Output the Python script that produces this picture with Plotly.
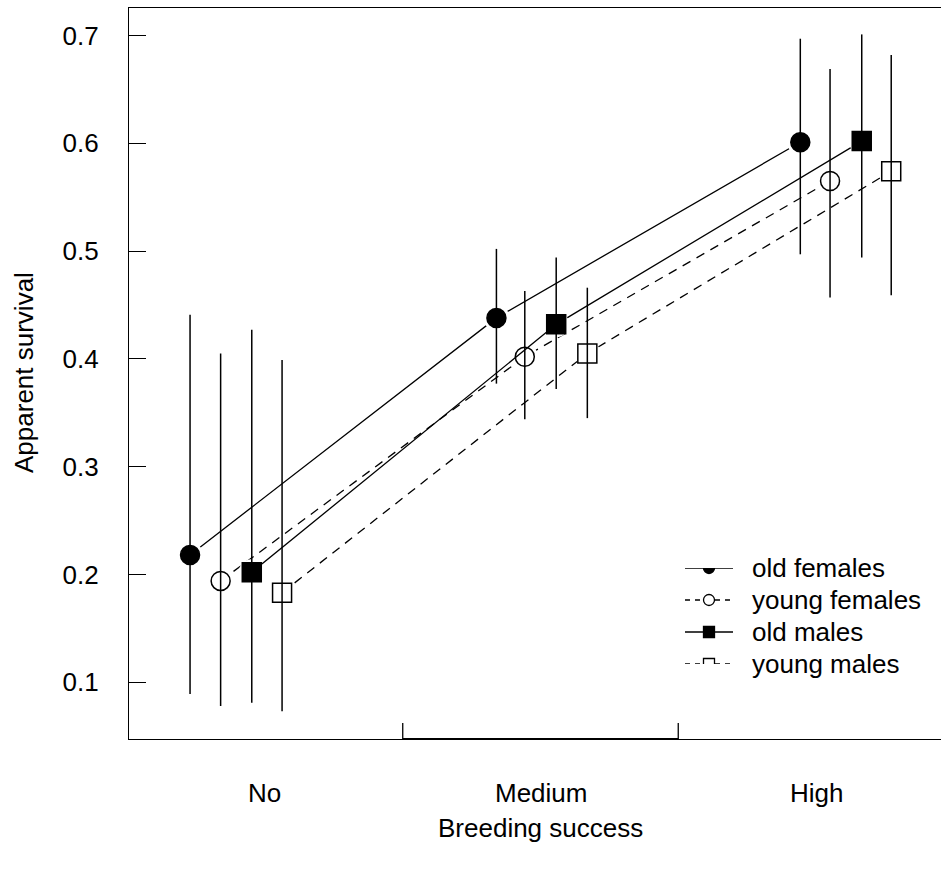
import plotly.graph_objects as go

# ---- data ----
categories = ["No", "Medium", "High"]
cat_pos = [1, 2, 3]
series_names = ["old females", "young females", "old males", "young males"]

x_old_females = [0.728, 1.840, 2.943]
x_young_females = [0.839, 1.943, 3.051]
x_old_males = [0.952, 2.057, 3.166]
x_young_males = [1.062, 2.170, 3.273]

y_old_females = [0.218, 0.438, 0.601]
y_young_females = [0.194, 0.402, 0.565]
y_old_males = [0.202, 0.432, 0.602]
y_young_males = [0.183, 0.405, 0.574]

lo_old_females = [0.089, 0.377, 0.497]
hi_old_females = [0.441, 0.502, 0.697]
lo_young_females = [0.078, 0.344, 0.457]
hi_young_females = [0.405, 0.463, 0.669]
lo_old_males = [0.081, 0.372, 0.494]
hi_old_males = [0.427, 0.494, 0.701]
lo_young_males = [0.073, 0.345, 0.459]
hi_young_males = [0.399, 0.466, 0.682]

y_ticks = [0.1, 0.2, 0.3, 0.4, 0.5, 0.6, 0.7]
x_sep_ticks = [1.5, 2.5]

xs = [x_old_females, x_young_females, x_old_males, x_young_males]
ys = [y_old_females, y_young_females, y_old_males, y_young_males]
los = [lo_old_females, lo_young_females, lo_old_males, lo_young_males]
his = [hi_old_females, hi_young_females, hi_old_males, hi_young_males]

symbols = ["circle", "circle", "square", "square"]
fills = ["black", "white", "black", "white"]
dashes = ["solid", "9px,7px", "solid", "9px,7px"]

FONT = "Liberation Sans, Arial, sans-serif"
FS = 26

fig = go.Figure()

for i in range(4):
    fig.add_trace(go.Scatter(x=xs[i], y=ys[i], mode="lines",
                             line=dict(color="black", width=1.3, dash=dashes[i]),
                             showlegend=False, hoverinfo="skip"))
    fig.add_trace(go.Scatter(x=xs[i], y=ys[i], mode="markers",
                             marker=dict(symbol="circle", size=26, color="white",
                                         line=dict(width=0)),
                             showlegend=False, hoverinfo="skip"))
    fig.add_trace(go.Scatter(x=xs[i], y=ys[i], mode="markers", name=series_names[i],
                             marker=dict(symbol=symbols[i], size=19, color=fills[i],
                                         line=dict(color="black", width=1.5)),
                             showlegend=False))

for i in range(4):
    plus = [h - y for h, y in zip(his[i], ys[i])]
    minus = [y - l for l, y in zip(los[i], ys[i])]
    fig.add_trace(go.Scatter(x=xs[i], y=ys[i], mode="markers",
                             marker=dict(size=1, color="rgba(0,0,0,0)"),
                             error_y=dict(type="data", symmetric=False, array=plus,
                                          arrayminus=minus, width=0, thickness=1.5,
                                          color="black"),
                             showlegend=False, hoverinfo="skip"))

# manual legend drawn on its own small axis pair (row index 0..3)
legend_rows = [0, 1, 2, 3]
for i, r in enumerate(legend_rows):
    fig.add_trace(go.Scatter(x=[0, 1], y=[r, r], mode="lines", xaxis="x2", yaxis="y2",
                             line=dict(color="black", width=1.3,
                                       dash="solid" if dashes[i] == "solid" else "5px,5px"),
                             showlegend=False, hoverinfo="skip"))
    fig.add_trace(go.Scatter(x=[0.5], y=[r], mode="markers", xaxis="x2", yaxis="y2",
                             marker=dict(symbol=symbols[i], size=11, color=fills[i],
                                         line=dict(color="black", width=1.3)),
                             showlegend=False, hoverinfo="skip"))

x_range = [0.5064, 3.4537]
y_range = [0.0473, 0.7255]

W, H, L, B, T = 941, 873, 129, 134, 8
PW = W - L
PH = H - B - T


def px_x(p):
    return (p - L) / PW


def px_y(p):
    return (H - B - p) / PH


fig.update_layout(
    width=W, height=H,
    margin=dict(l=L, r=0, t=T, b=B),
    paper_bgcolor="white", plot_bgcolor="white",
    font=dict(family=FONT, size=FS, color="black"),
    showlegend=False,
    xaxis=dict(range=x_range, showgrid=False, zeroline=False,
               showline=True, linecolor="black", linewidth=1.3, mirror=True,
               tickmode="array", tickvals=cat_pos, ticktext=["", "", ""],
               ticks="", showticklabels=False),
    yaxis=dict(range=y_range, showgrid=False, zeroline=False,
               showline=True, linecolor="black", linewidth=1.3, mirror=False,
               tickmode="array", tickvals=y_ticks,
               ticktext=[f"{v:.1f}" for v in y_ticks],
               ticks="inside", ticklen=17, tickwidth=1.3, tickcolor="black",
               ticklabelstandoff=24,
               tickfont=dict(family=FONT, size=FS, color="black")),
    xaxis2=dict(domain=[px_x(685), px_x(733)], range=[0, 1], anchor="y2",
                visible=False, fixedrange=True),
    yaxis2=dict(domain=[px_y(664), px_y(568)], range=[3, 0], anchor="x2",
                visible=False, fixedrange=True),
)

shapes = []
for t in x_sep_ticks:
    shapes.append(dict(type="line", xref="x", yref="paper", x0=t, x1=t,
                       y0=0, y1=16, ysizemode="pixel", yanchor=0,
                       line=dict(color="black", width=1.3)))
shapes.append(dict(type="line", xref="x", yref="paper", x0=x_sep_ticks[0], x1=x_sep_ticks[1],
                   y0=0, y1=0, line=dict(color="black", width=2.2)))
fig.update_layout(shapes=shapes)

annotations = []
for c, p in zip(categories, cat_pos):
    annotations.append(dict(x=p, y=px_y(793), xref="x", yref="paper", text=c,
                            showarrow=False, xanchor="center", yanchor="middle",
                            font=dict(family=FONT, size=FS, color="black")))
annotations.append(dict(x=2, y=px_y(828), xref="x", yref="paper", text="Breeding success",
                        showarrow=False, xanchor="center", yanchor="middle",
                        font=dict(family=FONT, size=FS, color="black")))
annotations.append(dict(x=px_x(24), y=px_y(373), xref="paper", yref="paper",
                        text="Apparent survival", textangle=-90,
                        showarrow=False, xanchor="center", yanchor="middle",
                        font=dict(family=FONT, size=FS, color="black")))
for name, r in zip(series_names, legend_rows):
    annotations.append(dict(x=px_x(750), y=r, xref="paper", yref="y2", text=name,
                            showarrow=False, xanchor="left", yanchor="middle",
                            font=dict(family=FONT, size=FS, color="black")))
fig.update_layout(annotations=annotations)

fig.write_html("out.html")
